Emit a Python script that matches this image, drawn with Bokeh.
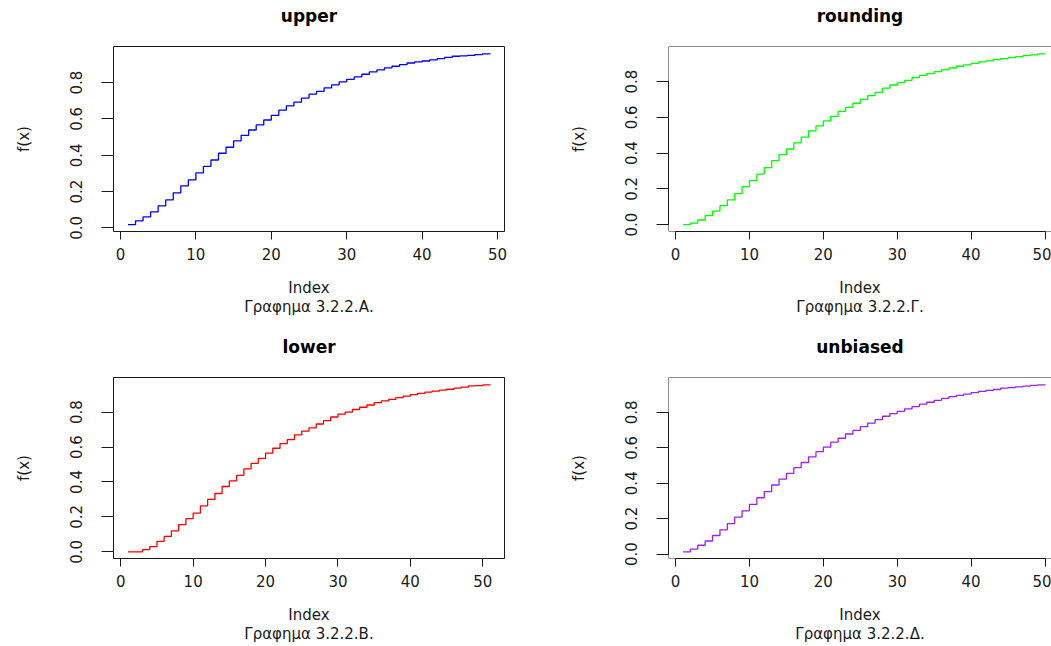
import math
from bokeh.plotting import figure
from bokeh.layouts import column, row
from bokeh.models import FixedTicker, Span, LinearAxis
from bokeh.embed import file_html
from bokeh.resources import INLINE

# ---- data ----
upper_vals = [0.018, 0.039, 0.061, 0.088, 0.121, 0.154, 0.193, 0.231, 0.264, 0.303,
              0.339, 0.374, 0.411, 0.444, 0.479, 0.510, 0.539, 0.567, 0.594, 0.620,
              0.648, 0.672, 0.692, 0.714, 0.736, 0.752, 0.771, 0.787, 0.804, 0.818,
              0.831, 0.846, 0.859, 0.870, 0.881, 0.890, 0.899, 0.908, 0.914, 0.919,
              0.925, 0.932, 0.939, 0.945, 0.947, 0.950, 0.954, 0.958, 0.961]
rounding_vals = [0.000, 0.009, 0.026, 0.050, 0.076, 0.106, 0.138, 0.173, 0.213, 0.246,
                 0.283, 0.319, 0.358, 0.392, 0.423, 0.457, 0.489, 0.524, 0.552, 0.580,
                 0.606, 0.634, 0.656, 0.679, 0.701, 0.722, 0.740, 0.763, 0.781, 0.794,
                 0.807, 0.822, 0.835, 0.845, 0.856, 0.867, 0.876, 0.886, 0.893, 0.902,
                 0.910, 0.916, 0.923, 0.929, 0.934, 0.940, 0.945, 0.950, 0.955, 0.958]
lower_vals = [0.000, 0.000, 0.013, 0.030, 0.060, 0.088, 0.120, 0.156, 0.190, 0.222,
              0.263, 0.300, 0.334, 0.374, 0.406, 0.438, 0.475, 0.507, 0.535, 0.565,
              0.593, 0.620, 0.642, 0.670, 0.691, 0.710, 0.732, 0.751, 0.772, 0.789,
              0.800, 0.815, 0.828, 0.841, 0.855, 0.864, 0.873, 0.883, 0.892, 0.900,
              0.907, 0.915, 0.920, 0.926, 0.931, 0.937, 0.943, 0.950, 0.952, 0.956,
              0.960]
unbiased_vals = [0.013, 0.028, 0.050, 0.074, 0.105, 0.137, 0.172, 0.209, 0.244, 0.281,
                 0.318, 0.353, 0.390, 0.423, 0.456, 0.488, 0.517, 0.549, 0.578, 0.604,
                 0.632, 0.654, 0.678, 0.698, 0.719, 0.739, 0.759, 0.778, 0.793, 0.806,
                 0.820, 0.833, 0.846, 0.857, 0.868, 0.879, 0.889, 0.896, 0.903, 0.911,
                 0.918, 0.924, 0.929, 0.937, 0.940, 0.944, 0.948, 0.952, 0.955, 0.959]

x_ticks = [0, 10, 20, 30, 40, 50]
y_ticks = [0.0, 0.2, 0.4, 0.6, 0.8]
y_tick_labels = ["0.0", "0.2", "0.4", "0.6", "0.8"]

titles = ["upper", "rounding", "lower", "unbiased"]
subs = ["Γραφημα 3.2.2.Α.", "Γραφημα 3.2.2.Γ.", "Γραφημα 3.2.2.Β.", "Γραφημα 3.2.2.Δ."]
colors = ["#0000FF", "#00FF00", "#FF0000", "#A020F0"]
x_label = "Index"
y_label = "f(x)"

FONT = "DejaVu Sans"
INK = "#1a1a1a"


def make_panel(vals, title, sub, color, width, height, mbl, mbr, mbt, mbb, cut_right):
    n = len(vals)
    idx = list(range(1, n + 1))
    xlo = 1 - 0.04 * (n - 1)
    xhi = n + 0.04 * (n - 1)
    if cut_right:
        xhi = xlo + (xhi - xlo) * (383.0 / 391.0)
    vmin, vmax = min(vals), max(vals)
    ylo = vmin - 0.04 * (vmax - vmin)
    yhi = vmax + 0.04 * (vmax - vmin)
    p = figure(width=width, height=height, x_range=(xlo, xhi), y_range=(ylo, yhi),
               output_backend="svg", toolbar_location=None,
               min_border_left=mbl, min_border_right=mbr,
               min_border_top=mbt, min_border_bottom=mbb)
    p.step(idx, vals, mode="after", line_color=color, line_width=1.3)
    p.grid.visible = False
    p.background_fill_color = "white"
    p.border_fill_color = "white"
    if cut_right:
        p.outline_line_color = None
        for loc, dim in [(ylo, "width"), (yhi, "width"), (xlo, "height")]:
            p.add_layout(Span(location=loc, dimension=dim, line_color=INK, line_width=1))
    else:
        p.outline_line_color = INK
        p.outline_line_width = 1

    xa = p.below[0]
    ya = p.left[0]

    # main title: a tick-less axis above the frame, so it sits like R's main title
    ta = LinearAxis(ticker=FixedTicker(ticks=[]), axis_label=title,
                    axis_line_color=None, major_tick_line_color=None,
                    minor_tick_line_color=None, major_tick_in=0, major_tick_out=0,
                    minor_tick_in=0, minor_tick_out=0, major_label_standoff=0,
                    axis_label_standoff=21, axis_label_text_font=FONT,
                    axis_label_text_font_size="17px", axis_label_text_font_style="bold",
                    axis_label_text_color="black")
    p.add_layout(ta, "above")

    xa.ticker = FixedTicker(ticks=x_ticks)
    xa.bounds = (0, 50)
    xa.minor_tick_line_color = None
    xa.major_tick_in = 0
    xa.major_tick_out = 8
    xa.axis_line_color = INK
    xa.major_tick_line_color = INK
    xa.major_label_text_font = FONT
    xa.major_label_text_font_size = "15px"
    xa.major_label_text_color = INK
    xa.major_label_standoff = 8
    xa.axis_label = x_label + "\n" + sub
    xa.axis_label_text_font = FONT
    xa.axis_label_text_font_size = "15px"
    xa.axis_label_text_font_style = "normal"
    xa.axis_label_text_color = INK
    xa.axis_label_text_line_height = 1.1
    xa.axis_label_standoff = 16

    ya.ticker = FixedTicker(ticks=y_ticks)
    ya.major_label_overrides = {t: l for t, l in zip(y_ticks, y_tick_labels)}
    ya.bounds = (0, 0.8)
    ya.minor_tick_line_color = None
    ya.major_tick_in = 0
    ya.major_tick_out = 12
    ya.axis_line_color = INK
    ya.major_tick_line_color = INK
    ya.major_label_orientation = "vertical"
    ya.major_label_text_font = FONT
    ya.major_label_text_font_size = "15px"
    ya.major_label_text_color = INK
    ya.major_label_standoff = 19
    ya.axis_label = y_label
    ya.axis_label_text_font = FONT
    ya.axis_label_text_font_size = "15px"
    ya.axis_label_text_font_style = "normal"
    ya.axis_label_text_color = INK
    ya.axis_label_standoff = 35
    return p


p1 = make_panel(upper_vals, titles[0], subs[0], colors[0], 550, 331, 113, 46, 46, 100, False)
p2 = make_panel(rounding_vals, titles[1], subs[1], colors[1], 501, 331, 118, 0, 46, 100, True)
p3 = make_panel(lower_vals, titles[2], subs[2], colors[2], 550, 315, 113, 46, 46, 84, False)
p4 = make_panel(unbiased_vals, titles[3], subs[3], colors[3], 501, 315, 118, 0, 46, 84, True)

layout = column(row(p1, p2), row(p3, p4))

open("out.html", "w").write(file_html(layout, INLINE))
